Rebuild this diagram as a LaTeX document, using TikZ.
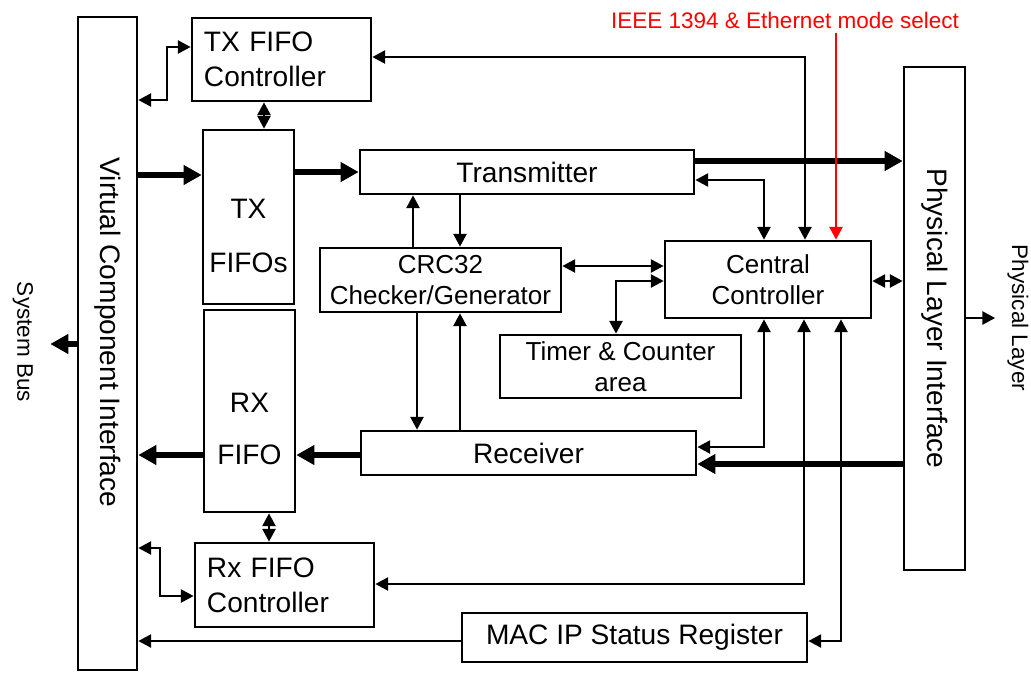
\documentclass[tikz,border=0pt]{standalone}
\usepackage{fontspec}
\setmainfont{Liberation Sans}
\usepackage{tikz}
\usetikzlibrary{arrows.meta}

\newcommand{\bigtxt}{\fontsize{20}{25}\selectfont}
\newcommand{\midtxt}{\fontsize{18.5}{22}\selectfont}
\newcommand{\smalltxt}{\fontsize{16}{19}\selectfont}

\begin{document}
\begin{tikzpicture}[
  x=0.025cm, y=-0.025cm,
  box/.style={draw, line width=1.8pt, inner sep=0pt, align=center, font=\bigtxt},
  ctrl/.style={box, align=left, inner xsep=0.3cm, text width=3.875cm},
  arr/.style={line width=2pt, >={Triangle[length=0.32cm, width=0.32cm]}},
  thk/.style={line width=3.6pt, >={Triangle[length=0.45cm, width=0.47cm]}},
  selarr/.style={arr, draw=red, fill=red},
]
  \useasboundingbox (0,0) rectangle (1031,673);

  % blocks
  \node[box, minimum width=1.475cm, minimum height=16.325cm] (vci) at (107.5,343.5)
    {\rotatebox{-90}{Virtual Component Interface\hspace{0.55cm}}};
  \node[box, minimum width=1.525cm, minimum height=12.575cm] (pli) at (934.5,318.5)
    {\rotatebox{-90}{Physical Layer Interface}};
  \node[ctrl, minimum height=2.075cm] (txfc) at (281.5,59.5) {TX FIFO\\Controller};
  \node[ctrl, minimum height=2.1cm]   (rxfc) at (284.5,585)  {Rx FIFO\\Controller};
  \node[box, minimum width=2.275cm, minimum height=4.35cm] (txf) at (248.5,217)
    {\rule{0pt}{41pt}TX\\[13pt]FIFOs};
  \node[box, minimum width=2.275cm, minimum height=5.05cm] (rxf) at (249.5,411)
    {\rule{0pt}{39pt}RX\\[12pt]FIFO};
  \node[box, minimum width=8.35cm,  minimum height=1.1cm]   (tx)  at (527,172)   {Transmitter};
  \node[box, minimum width=8.375cm, minimum height=1.1cm]   (rx)  at (528.5,453) {Receiver};
  \node[box, minimum width=8.625cm, minimum height=1.225cm] (mac) at (634.5,637.5) {MAC IP Status Register};
  \node[box, font=\midtxt, minimum width=6.025cm, minimum height=1.6cm]   (crc) at (440.5,280)
    {CRC32\\Checker/Generator};
  \node[box, font=\midtxt, minimum width=5.15cm,  minimum height=1.925cm] (cc)  at (768,279.5)
    {Central\\Controller};
  \node[box, font=\midtxt, minimum width=6.025cm, minimum height=1.575cm] (tmr) at (620.5,366.5)
    {Timer \& Counter\\area};

  % outside labels
  \node[font=\smalltxt, inner sep=0pt] (sbus) at (23,342)  {\rotatebox{-90}{System Bus}};
  \node[font=\smalltxt, inner sep=0pt] (phy)  at (1018,318) {\rotatebox{-90}{Physical Layer}};
  \node[font=\smalltxt, text=red, inner sep=0pt] (sel) at (785,20)
    {IEEE 1394 \& Ethernet mode select};

  % data path
  \draw[thk, ->] (vci.east |- 0,175) -- (txf.west |- 0,175);
  \draw[thk, ->] (txf.east |- tx.west) -- (tx.west);
  \draw[thk, ->] (tx.east |- 0,161) -- (pli.west |- 0,161);
  \draw[thk, ->] (pli.west |- 0,464) -- (rx.east |- 0,464);
  \draw[thk, ->] (rx.west |- 0,455) -- (rxf.east |- 0,455);
  \draw[thk, ->] (rxf.west |- 0,455) -- (vci.east |- 0,455);
  \draw[thk, ->] (vci.west |- 0,344) -- (sbus.east |- 0,344) [shorten >=0.42cm];
  \draw[arr, ->] (pli.east |- 0,318) -- (phy.west |- 0,318) [shorten >=0.3cm];

  % fifo control
  \draw[arr, <->] (vci.east |- 0,100) -| (167,47) -- (txfc.west |- 0,47);
  \draw[arr, <->] (txfc.south -| 264,0) -- (txf.north -| 264,0);
  \draw[arr, <->] (rxf.south -| 269,0) -- (rxfc.north -| 269,0);
  \draw[arr, <->] (vci.east |- 0,548) -| (160,596) -- (rxfc.west |- 0,596);
  \draw[arr, ->] (mac.west |- 0,641) -- (vci.east |- 0,641);

  % crc
  \draw[arr, ->] (tx.south -| 460,0) -- (crc.north -| 460,0);
  \draw[arr, ->] (crc.north -| 413,0) -- (tx.south -| 413,0);
  \draw[arr, ->] (crc.south -| 417,0) -- (rx.north -| 417,0);
  \draw[arr, ->] (rx.north -| 460,0) -- (crc.south -| 460,0);

  % central controller
  \draw[arr, <->] (crc.east |- 0,266) -- (cc.west |- 0,266);
  \draw[arr, <->] (tmr.north -| 616,0) |- (cc.west |- 0,281);
  \draw[arr, <->] (tx.east |- 0,180) -| (cc.north -| 764,0);
  \draw[arr, <->] (txfc.east |- 0,57) -| (cc.north -| 805,0);
  \draw[arr, <->] (cc.east |- 0,281) -- (pli.west |- 0,281);
  \draw[arr, <->] (cc.south -| 764,0) |- (rx.east |- 0,447);
  \draw[arr, <->] (cc.south -| 804,0) |- (rxfc.east |- 0,584);
  \draw[arr, <->] (cc.south -| 841,0) |- (mac.east |- 0,641);
  \draw[selarr, ->] (sel.south -| 836,0) -- (cc.north -| 836,0) [shorten <=3pt];
\end{tikzpicture}
\end{document}
